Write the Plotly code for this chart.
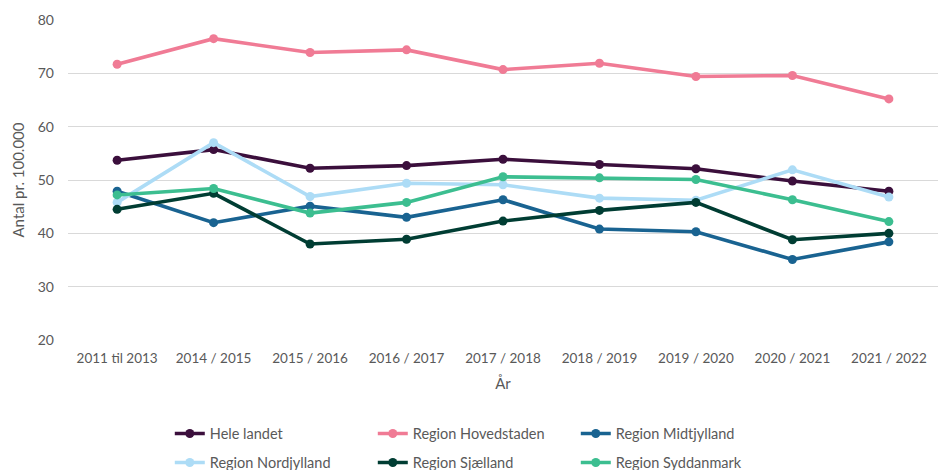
import plotly.graph_objects as go

categories = ["2011 til 2013", "2014 / 2015", "2015 / 2016", "2016 / 2017", "2017 / 2018",
              "2018 / 2019", "2019 / 2020", "2020 / 2021", "2021 / 2022"]

hele_landet = [53.7, 55.7, 52.2, 52.7, 53.9, 52.9, 52.1, 49.8, 47.9]
hovedstaden = [71.7, 76.5, 73.9, 74.4, 70.7, 71.9, 69.4, 69.6, 65.2]
midtjylland = [47.9, 42.0, 45.1, 43.0, 46.3, 40.8, 40.3, 35.1, 38.4]
nordjylland = [45.8, 57.0, 46.9, 49.4, 49.1, 46.6, 46.2, 51.9, 46.8]
sjaelland = [44.5, 47.5, 38.0, 38.9, 42.3, 44.3, 45.8, 38.8, 40.0]
syddanmark = [47.2, 48.4, 43.8, 45.8, 50.6, 50.4, 50.1, 46.3, 42.2]

series = [
    ("Hele landet", hele_landet, "#3B0F3C", "legend"),
    ("Region Hovedstaden", hovedstaden, "#F07B95", "legend"),
    ("Region Midtjylland", midtjylland, "#196391", "legend"),
    ("Region Nordjylland", nordjylland, "#ADDCF6", "legend2"),
    ("Region Sjælland", sjaelland, "#003D33", "legend2"),
    ("Region Syddanmark", syddanmark, "#3CBE90", "legend2"),
]

fig = go.Figure()
for name, vals, color, leg in series:
    fig.add_trace(go.Scatter(
        x=categories, y=vals, name=name, mode="lines+markers",
        line=dict(color=color, width=3.6),
        marker=dict(color=color, size=9),
        legend=leg,
    ))

font = "Lato, 'Noto Sans', sans-serif"
legend_common = dict(
    orientation="h", xanchor="left", x=0.117, yanchor="top",
    entrywidth=158, entrywidthmode="pixels",
    font=dict(size=14.5, color="#595959"), bgcolor="rgba(0,0,0,0)",
)
fig.update_layout(
    width=938, height=470,
    margin=dict(l=68, r=0, t=20, b=130, autoexpand=False),
    paper_bgcolor="white", plot_bgcolor="white",
    font=dict(family=font, color="#595959", size=13),
    xaxis=dict(
        type="category", showgrid=False, showline=False, zeroline=False,
        ticks="", tickfont=dict(size=13.5, color="#595959"), ticklabelstandoff=8,
        title=dict(text="År", font=dict(size=15, color="#595959"), standoff=13),
    ),
    yaxis=dict(
        range=[20, 80], dtick=10, showgrid=True, gridcolor="#D9D9D9", gridwidth=1,
        zeroline=False, showline=False, ticks="",
        tickfont=dict(size=14, color="#595959"), ticklabelstandoff=13,
        title=dict(text="Antal pr. 100.000", font=dict(size=15, color="#595959"), standoff=9),
    ),
    legend=dict(y=-0.2425, **legend_common),
    legend2=dict(y=-0.333, **legend_common),
    showlegend=True,
)

fig.write_html("out.html", config={"displayModeBar": False},
               post_script="document.body.style.margin='0';")
